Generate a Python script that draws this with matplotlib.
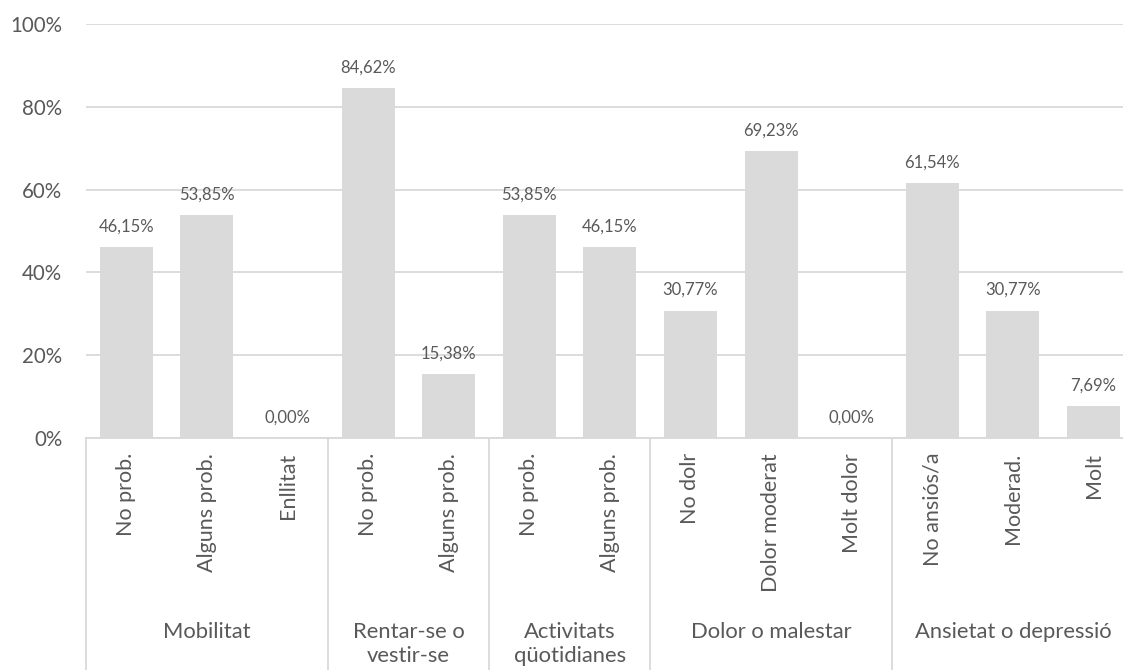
import numpy as np
import matplotlib.pyplot as plt

plt.rcParams['font.family'] = ['Lato', 'DejaVu Sans']

grups = ['Mobilitat', 'Rentar-se o\nvestir-se', 'Activitats\nqüotidianes',
         'Dolor o malestar', 'Ansietat o depressió']
mida_grups = [3, 2, 2, 3, 3]
categories = ['No prob.', 'Alguns prob.', 'Enllitat',
              'No prob.', 'Alguns prob.',
              'No prob.', 'Alguns prob.',
              'No dolr', 'Dolor moderat', 'Molt dolor',
              'No ansiós/a', 'Moderad.', 'Molt']
valors = [46.15, 53.85, 0.00, 84.62, 15.38, 53.85, 46.15,
          30.77, 69.23, 0.00, 61.54, 30.77, 7.69]

gris_text = '#595959'
gris_linia = '#D9D9D9'

fig = plt.figure(figsize=(11.23, 6.7), dpi=100)
ax = fig.add_axes([86/1123, 232/670, 13*80.6/1123, 414/670])

x = np.arange(len(valors))
bars = ax.bar(x, valors, width=0.66, color='#DADADA', zorder=2)
for xi, v in zip(x, valors):
    ax.annotate(f'{v:.2f}%'.replace('.', ','), (xi, v), xytext=(0, 9),
                textcoords='offset points', ha='center', va='bottom',
                fontsize=12, color=gris_text)

ax.set_xlim(-0.5, len(valors) - 0.5)
ax.set_ylim(0, 100)
ax.set_yticks(np.arange(0, 101, 20))
ax.set_yticklabels([f'{t}%' for t in range(0, 101, 20)])
ax.tick_params(axis='y', length=0, pad=17, labelsize=14.8, labelcolor=gris_text)
ax.set_xticks([])
ax.grid(axis='y', color=gris_linia, lw=1.3, zorder=0)
for s in ['left', 'right', 'top']:
    ax.spines[s].set_visible(False)
ax.spines['bottom'].set_color(gris_linia)
ax.spines['bottom'].set_linewidth(1.3)

tr = ax.get_xaxis_transform()
for xi, c in zip(x, categories):
    ax.text(xi, -0.036, c, transform=tr, rotation=90, ha='center', va='top',
            fontsize=15.5, color=gris_text)

inici = -0.5
ax.plot([inici, inici], [0, -0.6], transform=tr, color=gris_linia, lw=1.3, clip_on=False)
for g, n in zip(grups, mida_grups):
    ax.text(inici + n / 2, -0.445, g, transform=tr, ha='center', va='top',
            fontsize=15.8, color=gris_text, linespacing=1.25)
    inici += n
    ax.plot([inici, inici], [0, -0.6], transform=tr, color=gris_linia, lw=1.3, clip_on=False)

fig.savefig('out.png', dpi=100)
